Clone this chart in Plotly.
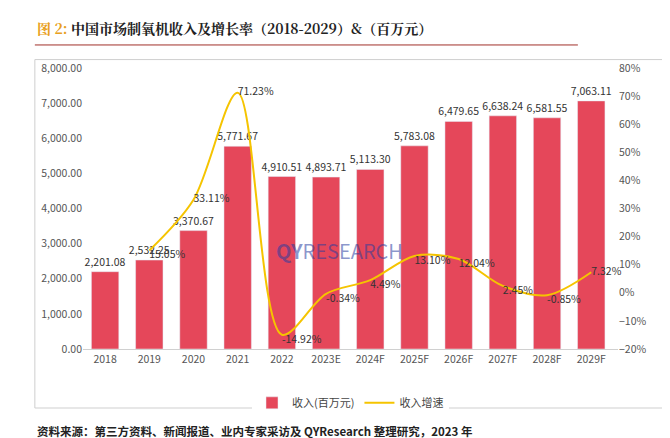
import plotly.graph_objects as go

years = ["2018", "2019", "2020", "2021", "2022", "2023E", "2024F", "2025F",
         "2026F", "2027F", "2028F", "2029F"]
revenue = [2201.08, 2532.25, 3370.67, 5771.67, 4910.51, 4893.71, 5113.30,
           5783.08, 6479.65, 6638.24, 6581.55, 7063.11]
growth_years = years[1:]
growth = [15.05, 33.11, 71.23, -14.92, -0.34, 4.49, 13.10, 12.04, 2.45, -0.85, 7.32]
growth_pos = ["bottom right", "middle right", "middle right", "bottom right",
              "bottom right", "bottom right", "bottom right", "bottom right",
              "bottom right", "bottom right", "middle right"]

fig = go.Figure()
fig.add_trace(go.Bar(
    x=years, y=revenue, name="收入(百万元)", marker_color="#e5475a", width=0.62,
    text=[f"{v:,.2f}" for v in revenue], textposition="outside",
    constraintext="none",
    textfont=dict(size=10.5, color="#333"), cliponaxis=False))
fig.add_trace(go.Scatter(
    x=growth_years, y=growth, name="收入增速", yaxis="y2", mode="lines+text",
    line=dict(color="#f5c400", width=2, shape="spline", smoothing=0.9),
    text=[f"{v:.2f}%" for v in growth], textposition=growth_pos,
    textfont=dict(size=10.5, color="#333"), cliponaxis=False))

fig.update_layout(
    width=670, height=438, paper_bgcolor="white", plot_bgcolor="white",
    margin=dict(l=75, r=60, t=60, b=97),
    font=dict(family="Noto Sans CJK SC", color="#555", size=10.5),
    xaxis=dict(showline=True, linecolor="#d0d0d0", ticks="", tickfont=dict(size=10.5)),
    yaxis=dict(range=[0, 8000], dtick=1000, tickformat=",.2f", showgrid=False,
               zeroline=False),
    yaxis2=dict(range=[-20, 80], dtick=10, ticksuffix="%", overlaying="y",
                side="right", showgrid=False, zeroline=False),
    legend=dict(orientation="h", x=0.5, xanchor="center", y=-0.14, yanchor="top",
                font=dict(size=11, color="#444")),
    showlegend=True,
)

fig.add_shape(type="rect", xref="paper", yref="paper", x0=-0.09, x1=1.087,
              y0=-0.21, y1=1.03, line=dict(color="#cfcfcf", width=1))
fig.add_shape(type="line", xref="paper", yref="paper", x0=-0.09, x1=0.925,
              y0=1.082, y1=1.082, line=dict(color="#a0302a", width=1))
fig.add_annotation(xref="paper", yref="paper", x=-0.09, y=1.1, xanchor="left",
                   yanchor="bottom", showarrow=False,
                   text="<b><span style='color:#e8a020'>图 2:</span> 中国市场制氧机收入及增长率（2018-2029）&（百万元）</b>",
                   font=dict(family="Noto Serif CJK SC, Noto Sans CJK SC", size=14, color="#222"))
fig.add_annotation(xref="paper", yref="paper", x=-0.09, y=-0.255, xanchor="left",
                   yanchor="top", showarrow=False,
                   text="<b>资料来源：第三方资料、新闻报道、业内专家采访及 QYResearch 整理研究，2023 年</b>",
                   font=dict(size=11.5, color="#222"))
fig.add_annotation(xref="paper", yref="paper", x=0.48, y=0.35, showarrow=False,
                   text="<b>QY</b>RESEARCH", font=dict(size=20, color="rgba(40,60,160,0.55)"))

fig.write_html("out.html")
